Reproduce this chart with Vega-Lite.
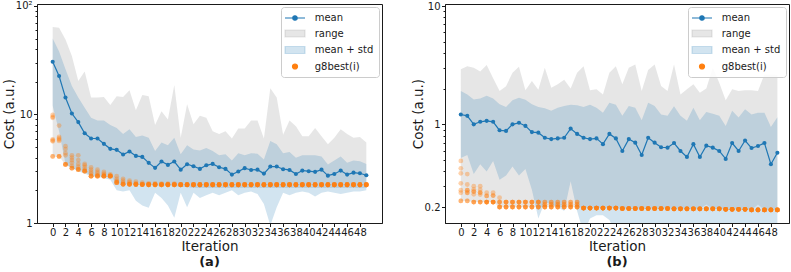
{
  "$schema": "https://vega.github.io/schema/vega-lite/v6.json",
  "background": "white",
  "padding": {"left": 1, "top": 0, "right": 0, "bottom": 0},
  "config": {
    "font": "DejaVu Sans",
    "view": {"stroke": "#1a1a1a", "strokeWidth": 1},
    "axis": {"grid": false, "domainColor": "#1a1a1a", "tickColor": "#1a1a1a", "labelColor": "#1a1a1a", "titleColor": "#1a1a1a", "labelFont": "DejaVu Sans", "titleFont": "DejaVu Sans", "labelFontSize": 10, "titleFontSize": 13.5, "titleFontWeight": "normal", "labelPadding": 1.5, "tickSize": 3.5, "titlePadding": 0},
    "legend": {"fillColor": "rgba(255,255,255,0.85)", "strokeColor": "#cccccc", "cornerRadius": 3, "padding": 5, "labelFont": "DejaVu Sans", "labelFontSize": 10, "labelColor": "#1a1a1a", "symbolSize": 100, "rowPadding": 4.5, "labelOffset": 16.7},
    "title": {"orient": "bottom", "font": "DejaVu Sans", "fontSize": 13, "fontWeight": "bold", "color": "#1a1a1a", "offset": 3, "anchor": "middle", "frame": "group"}
  },
  "datasets": {
    "statsA": [
      {"i":0,"mean":30.6,"hi":50,"lo":12,"rmax":64,"rmin":4.1},
      {"i":1,"mean":22.6,"hi":38,"lo":7.0,"rmax":63,"rmin":4.1},
      {"i":2,"mean":14.3,"hi":26,"lo":3.5,"rmax":49,"rmin":3.46},
      {"i":3,"mean":10.2,"hi":18.3,"lo":3.2,"rmax":34.5,"rmin":3.2},
      {"i":4,"mean":8.5,"hi":14.3,"lo":3.0,"rmax":20.3,"rmin":3.1},
      {"i":5,"mean":6.7,"hi":11.5,"lo":2.85,"rmax":24.8,"rmin":3.0},
      {"i":6,"mean":6.0,"hi":9.3,"lo":2.7,"rmax":14.3,"rmin":2.7},
      {"i":7,"mean":6.0,"hi":8.8,"lo":2.65,"rmax":14.3,"rmin":2.7},
      {"i":8,"mean":5.36,"hi":8.8,"lo":2.6,"rmax":14.5,"rmin":2.7},
      {"i":9,"mean":4.82,"hi":8.0,"lo":2.5,"rmax":12.2,"rmin":2.7},
      {"i":10,"mean":4.72,"hi":7.5,"lo":2.0,"rmax":14.7,"rmin":2.35},
      {"i":11,"mean":4.27,"hi":6.6,"lo":1.95,"rmax":14.5,"rmin":2.27},
      {"i":12,"mean":4.55,"hi":7.3,"lo":2.0,"rmax":16.7,"rmin":2.27},
      {"i":13,"mean":4.15,"hi":6.2,"lo":1.6,"rmax":10.9,"rmin":2.27},
      {"i":14,"mean":4.06,"hi":6.4,"lo":1.45,"rmax":15.1,"rmin":2.26},
      {"i":15,"mean":3.58,"hi":6.1,"lo":1.38,"rmax":14.7,"rmin":2.25},
      {"i":16,"mean":3.22,"hi":4.6,"lo":1.9,"rmax":8.0,"rmin":2.2},
      {"i":17,"mean":3.68,"hi":5.5,"lo":1.7,"rmax":10.7,"rmin":2.2},
      {"i":18,"mean":3.43,"hi":5.2,"lo":1.45,"rmax":9.0,"rmin":2.2},
      {"i":19,"mean":3.68,"hi":6.1,"lo":1.12,"rmax":18.7,"rmin":2.2},
      {"i":20,"mean":3.1,"hi":4.3,"lo":1.9,"rmax":6.1,"rmin":2.15},
      {"i":21,"mean":3.48,"hi":5.2,"lo":1.4,"rmax":12.4,"rmin":2.15},
      {"i":22,"mean":3.33,"hi":4.75,"lo":1.9,"rmax":8.1,"rmin":2.1},
      {"i":23,"mean":3.15,"hi":4.65,"lo":1.7,"rmax":9.7,"rmin":2.1},
      {"i":24,"mean":3.4,"hi":4.9,"lo":1.8,"rmax":9.3,"rmin":2.1},
      {"i":25,"mean":3.5,"hi":4.6,"lo":1.9,"rmax":7.0,"rmin":2.1},
      {"i":26,"mean":3.26,"hi":4.2,"lo":1.8,"rmax":6.6,"rmin":2.1},
      {"i":27,"mean":3.15,"hi":4.3,"lo":1.9,"rmax":7.0,"rmin":2.1},
      {"i":28,"mean":2.79,"hi":3.76,"lo":2.0,"rmax":6.0,"rmin":2.1},
      {"i":29,"mean":2.98,"hi":4.4,"lo":1.8,"rmax":7.4,"rmin":2.1},
      {"i":30,"mean":3.2,"hi":4.2,"lo":1.9,"rmax":7.4,"rmin":2.1},
      {"i":31,"mean":3.08,"hi":4.4,"lo":1.95,"rmax":8.8,"rmin":2.1},
      {"i":32,"mean":3.1,"hi":4.35,"lo":1.85,"rmax":8.8,"rmin":2.1},
      {"i":33,"mean":2.85,"hi":3.84,"lo":1.5,"rmax":6.0,"rmin":2.1},
      {"i":34,"mean":3.31,"hi":5.7,"lo":0.95,"rmax":17.4,"rmin":2.1},
      {"i":35,"mean":3.31,"hi":5.3,"lo":1.4,"rmax":14.3,"rmin":2.1},
      {"i":36,"mean":3.13,"hi":4.4,"lo":1.9,"rmax":6.5,"rmin":2.1},
      {"i":37,"mean":3.08,"hi":4.5,"lo":1.8,"rmax":8.8,"rmin":2.1},
      {"i":38,"mean":2.83,"hi":4.0,"lo":1.9,"rmax":7.8,"rmin":2.1},
      {"i":39,"mean":3.04,"hi":4.2,"lo":1.95,"rmax":6.3,"rmin":2.1},
      {"i":40,"mean":3.0,"hi":4.2,"lo":1.9,"rmax":6.3,"rmin":2.1},
      {"i":41,"mean":2.96,"hi":4.2,"lo":1.75,"rmax":7.5,"rmin":2.1},
      {"i":42,"mean":3.1,"hi":4.1,"lo":1.9,"rmax":6.3,"rmin":2.1},
      {"i":43,"mean":2.73,"hi":3.45,"lo":1.95,"rmax":5.3,"rmin":2.1},
      {"i":44,"mean":2.83,"hi":3.76,"lo":1.9,"rmax":6.1,"rmin":2.1},
      {"i":45,"mean":3.04,"hi":4.1,"lo":1.85,"rmax":7.3,"rmin":2.1},
      {"i":46,"mean":2.79,"hi":3.58,"lo":1.9,"rmax":6.6,"rmin":2.1},
      {"i":47,"mean":2.91,"hi":3.76,"lo":1.95,"rmax":6.1,"rmin":2.1},
      {"i":48,"mean":2.87,"hi":3.7,"lo":1.95,"rmax":6.2,"rmin":2.1},
      {"i":49,"mean":2.75,"hi":3.5,"lo":2.0,"rmax":5.5,"rmin":2.1}
    ],
    "bestA": [
      {"i":0,"g":[9.9,9.5,9.3,5.9,5.75,5.65,4.1,4.1]},
      {"i":1,"g":[7.9,6.2,6.0,5.85,5.7,4.1,4.1,4.1]},
      {"i":2,"g":[5.1,4.8,4.4,4.2,3.46,3.46,3.46,3.46]},
      {"i":3,"g":[4.2,4.0,3.8,3.6,3.35,3.2,3.2,3.2]},
      {"i":4,"g":[4.2,3.8,3.5,3.3,3.15,3.1,3.1,3.1]},
      {"i":5,"g":[3.5,3.4,3.25,3.1,3.0,3.0,3.0,3.0]},
      {"i":6,"g":[3.25,3.1,2.95,2.85,2.7,2.7,2.7,2.7]},
      {"i":7,"g":[3.1,2.95,2.85,2.75,2.7,2.7,2.7,2.7]},
      {"i":8,"g":[2.95,2.85,2.78,2.7,2.7,2.7,2.7,2.7]},
      {"i":9,"g":[2.8,2.75,2.7,2.7,2.7,2.7,2.7,2.7]},
      {"i":10,"g":[2.7,2.55,2.45,2.4,2.35,2.35,2.35,2.35]},
      {"i":11,"g":[2.55,2.45,2.35,2.3,2.27,2.27,2.27,2.27]},
      {"i":12,"g":[2.45,2.38,2.3,2.27,2.27,2.27,2.27,2.27]},
      {"i":13,"g":[2.4,2.32,2.28,2.27,2.26,2.26,2.26,2.26]},
      {"i":14,"g":[2.35,2.28,2.26,2.26,2.26,2.26,2.26,2.26]},
      {"i":15,"g":[2.32,2.27,2.25,2.25,2.25,2.25,2.25,2.25]},
      {"i":16,"g":[2.32,2.27,2.25,2.25,2.25,2.25,2.25,2.25]},
      {"i":17,"g":[2.3,2.26,2.25,2.25,2.25,2.25,2.25,2.25]},
      {"i":18,"g":[2.3,2.26,2.25,2.25,2.25,2.25,2.25,2.25]},
      {"i":19,"g":[2.3,2.26,2.25,2.25,2.25,2.25,2.25,2.25]},
      {"i":20,"g":[2.25,2.25,2.25,2.25,2.25,2.25,2.25,2.25]},
      {"i":21,"g":[2.25,2.25,2.25,2.25,2.25,2.25,2.25,2.25]},
      {"i":22,"g":[2.25,2.25,2.25,2.25,2.25,2.25,2.25,2.25]},
      {"i":23,"g":[2.25,2.25,2.25,2.25,2.25,2.25,2.25,2.25]},
      {"i":24,"g":[2.25,2.25,2.25,2.25,2.25,2.25,2.25,2.25]},
      {"i":25,"g":[2.25,2.25,2.25,2.25,2.25,2.25,2.25,2.25]},
      {"i":26,"g":[2.25,2.25,2.25,2.25,2.25,2.25,2.25,2.25]},
      {"i":27,"g":[2.25,2.25,2.25,2.25,2.25,2.25,2.25,2.25]},
      {"i":28,"g":[2.25,2.25,2.25,2.25,2.25,2.25,2.25,2.25]},
      {"i":29,"g":[2.25,2.25,2.25,2.25,2.25,2.25,2.25,2.25]},
      {"i":30,"g":[2.25,2.25,2.25,2.25,2.25,2.25,2.25,2.25]},
      {"i":31,"g":[2.25,2.25,2.25,2.25,2.25,2.25,2.25,2.25]},
      {"i":32,"g":[2.25,2.25,2.25,2.25,2.25,2.25,2.25,2.25]},
      {"i":33,"g":[2.25,2.25,2.25,2.25,2.25,2.25,2.25,2.25]},
      {"i":34,"g":[2.25,2.25,2.25,2.25,2.25,2.25,2.25,2.25]},
      {"i":35,"g":[2.25,2.25,2.25,2.25,2.25,2.25,2.25,2.25]},
      {"i":36,"g":[2.25,2.25,2.25,2.25,2.25,2.25,2.25,2.25]},
      {"i":37,"g":[2.25,2.25,2.25,2.25,2.25,2.25,2.25,2.25]},
      {"i":38,"g":[2.25,2.25,2.25,2.25,2.25,2.25,2.25,2.25]},
      {"i":39,"g":[2.25,2.25,2.25,2.25,2.25,2.25,2.25,2.25]},
      {"i":40,"g":[2.25,2.25,2.25,2.25,2.25,2.25,2.25,2.25]},
      {"i":41,"g":[2.25,2.25,2.25,2.25,2.25,2.25,2.25,2.25]},
      {"i":42,"g":[2.25,2.25,2.25,2.25,2.25,2.25,2.25,2.25]},
      {"i":43,"g":[2.25,2.25,2.25,2.25,2.25,2.25,2.25,2.25]},
      {"i":44,"g":[2.25,2.25,2.25,2.25,2.25,2.25,2.25,2.25]},
      {"i":45,"g":[2.25,2.25,2.25,2.25,2.25,2.25,2.25,2.25]},
      {"i":46,"g":[2.25,2.25,2.25,2.25,2.25,2.25,2.25,2.25]},
      {"i":47,"g":[2.25,2.25,2.25,2.25,2.25,2.25,2.25,2.25]},
      {"i":48,"g":[2.25,2.25,2.25,2.25,2.25,2.25,2.25,2.25]},
      {"i":49,"g":[2.25,2.25,2.25,2.25,2.25,2.25,2.25,2.25]}
    ],
    "statsB": [
      {"i":0,"mean":1.21,"hi":1.91,"lo":0.52,"rmax":2.92,"rmin":0.225},
      {"i":1,"mean":1.18,"hi":1.79,"lo":0.55,"rmax":3.1,"rmin":0.225},
      {"i":2,"mean":1.0,"hi":1.62,"lo":0.38,"rmax":3.0,"rmin":0.22},
      {"i":3,"mean":1.05,"hi":1.65,"lo":0.46,"rmax":2.79,"rmin":0.22},
      {"i":4,"mean":1.07,"hi":1.74,"lo":0.4,"rmax":3.17,"rmin":0.22},
      {"i":5,"mean":1.05,"hi":1.65,"lo":0.49,"rmax":2.45,"rmin":0.22},
      {"i":6,"mean":0.89,"hi":1.48,"lo":0.34,"rmax":1.91,"rmin":0.2},
      {"i":7,"mean":0.88,"hi":1.4,"lo":0.37,"rmax":2.1,"rmin":0.2},
      {"i":8,"mean":1.0,"hi":1.6,"lo":0.44,"rmax":2.73,"rmin":0.2},
      {"i":9,"mean":1.03,"hi":1.68,"lo":0.37,"rmax":3.07,"rmin":0.2},
      {"i":10,"mean":0.97,"hi":1.61,"lo":0.42,"rmax":1.94,"rmin":0.2},
      {"i":11,"mean":0.86,"hi":1.48,"lo":0.28,"rmax":2.32,"rmin":0.2},
      {"i":12,"mean":0.85,"hi":1.4,"lo":0.16,"rmax":1.96,"rmin":0.2},
      {"i":13,"mean":0.77,"hi":1.37,"lo":0.22,"rmax":3.0,"rmin":0.2},
      {"i":14,"mean":0.75,"hi":1.3,"lo":0.21,"rmax":2.04,"rmin":0.2},
      {"i":15,"mean":0.76,"hi":1.38,"lo":0.2,"rmax":2.18,"rmin":0.2},
      {"i":16,"mean":0.77,"hi":1.43,"lo":0.185,"rmax":2.38,"rmin":0.2},
      {"i":17,"mean":0.92,"hi":1.46,"lo":0.33,"rmax":2.01,"rmin":0.2},
      {"i":18,"mean":0.83,"hi":1.45,"lo":0.185,"rmax":2.73,"rmin":0.2},
      {"i":19,"mean":0.77,"hi":1.4,"lo":0.12,"rmax":3.09,"rmin":0.196},
      {"i":20,"mean":0.75,"hi":1.46,"lo":0.16,"rmax":1.94,"rmin":0.196},
      {"i":21,"mean":0.76,"hi":1.38,"lo":0.17,"rmax":1.98,"rmin":0.196},
      {"i":22,"mean":0.68,"hi":1.25,"lo":0.17,"rmax":1.79,"rmin":0.196},
      {"i":23,"mean":0.83,"hi":1.52,"lo":0.155,"rmax":2.73,"rmin":0.196},
      {"i":24,"mean":0.76,"hi":1.46,"lo":0.12,"rmax":3.1,"rmin":0.196},
      {"i":25,"mean":0.595,"hi":1.18,"lo":0.1,"rmax":2.18,"rmin":0.194},
      {"i":26,"mean":0.75,"hi":1.43,"lo":0.1,"rmax":3.0,"rmin":0.194},
      {"i":27,"mean":0.7,"hi":1.38,"lo":0.1,"rmax":3.21,"rmin":0.194},
      {"i":28,"mean":0.55,"hi":1.08,"lo":0.1,"rmax":1.91,"rmin":0.194},
      {"i":29,"mean":0.77,"hi":1.52,"lo":0.1,"rmax":2.88,"rmin":0.194},
      {"i":30,"mean":0.7,"hi":1.43,"lo":0.1,"rmax":3.21,"rmin":0.194},
      {"i":31,"mean":0.64,"hi":1.21,"lo":0.1,"rmax":2.11,"rmin":0.194},
      {"i":32,"mean":0.635,"hi":1.18,"lo":0.1,"rmax":1.91,"rmin":0.194},
      {"i":33,"mean":0.695,"hi":1.42,"lo":0.1,"rmax":3.21,"rmin":0.193},
      {"i":34,"mean":0.595,"hi":1.18,"lo":0.1,"rmax":1.79,"rmin":0.193},
      {"i":35,"mean":0.53,"hi":1.07,"lo":0.1,"rmax":1.98,"rmin":0.193},
      {"i":36,"mean":0.68,"hi":1.38,"lo":0.1,"rmax":2.18,"rmin":0.193},
      {"i":37,"mean":0.53,"hi":1.08,"lo":0.1,"rmax":1.85,"rmin":0.193},
      {"i":38,"mean":0.66,"hi":1.27,"lo":0.1,"rmax":2.01,"rmin":0.21},
      {"i":39,"mean":0.635,"hi":1.23,"lo":0.1,"rmax":3.0,"rmin":0.193},
      {"i":40,"mean":0.595,"hi":1.18,"lo":0.1,"rmax":2.25,"rmin":0.193},
      {"i":41,"mean":0.51,"hi":0.97,"lo":0.1,"rmax":1.6,"rmin":0.191},
      {"i":42,"mean":0.695,"hi":1.3,"lo":0.1,"rmax":1.98,"rmin":0.191},
      {"i":43,"mean":0.595,"hi":1.14,"lo":0.1,"rmax":1.91,"rmin":0.191},
      {"i":44,"mean":0.73,"hi":1.34,"lo":0.1,"rmax":1.94,"rmin":0.191},
      {"i":45,"mean":0.63,"hi":1.21,"lo":0.1,"rmax":1.94,"rmin":0.189},
      {"i":46,"mean":0.655,"hi":1.25,"lo":0.1,"rmax":1.91,"rmin":0.21},
      {"i":47,"mean":0.695,"hi":1.25,"lo":0.1,"rmax":2.64,"rmin":0.189},
      {"i":48,"mean":0.46,"hi":0.95,"lo":0.1,"rmax":2.64,"rmin":0.189},
      {"i":49,"mean":0.575,"hi":1.15,"lo":0.1,"rmax":2.61,"rmin":0.189}
    ],
    "bestB": [
      {"i":0,"g":[0.49,0.425,0.385,0.317,0.277,0.264,0.225,0.225]},
      {"i":1,"g":[0.38,0.31,0.277,0.277,0.264,0.264,0.225,0.225]},
      {"i":2,"g":[0.3,0.282,0.27,0.27,0.256,0.22,0.22,0.22]},
      {"i":3,"g":[0.3,0.28,0.265,0.265,0.255,0.22,0.22,0.22]},
      {"i":4,"g":[0.264,0.248,0.248,0.22,0.22,0.22,0.22,0.22]},
      {"i":5,"g":[0.264,0.25,0.25,0.22,0.22,0.22,0.22,0.22]},
      {"i":6,"g":[0.24,0.22,0.22,0.22,0.2,0.2,0.2,0.2]},
      {"i":7,"g":[0.22,0.22,0.22,0.22,0.2,0.2,0.2,0.2]},
      {"i":8,"g":[0.22,0.22,0.22,0.22,0.2,0.2,0.2,0.2]},
      {"i":9,"g":[0.22,0.22,0.22,0.22,0.2,0.2,0.2,0.2]},
      {"i":10,"g":[0.22,0.22,0.22,0.22,0.2,0.2,0.2,0.2]},
      {"i":11,"g":[0.22,0.22,0.22,0.22,0.2,0.2,0.2,0.2]},
      {"i":12,"g":[0.22,0.22,0.22,0.22,0.2,0.2,0.2,0.2]},
      {"i":13,"g":[0.22,0.22,0.21,0.21,0.2,0.2,0.2,0.2]},
      {"i":14,"g":[0.22,0.22,0.21,0.21,0.2,0.2,0.2,0.2]},
      {"i":15,"g":[0.22,0.22,0.21,0.21,0.2,0.2,0.2,0.2]},
      {"i":16,"g":[0.22,0.22,0.21,0.21,0.2,0.2,0.2,0.2]},
      {"i":17,"g":[0.22,0.22,0.21,0.21,0.2,0.2,0.2,0.2]},
      {"i":18,"g":[0.22,0.22,0.21,0.21,0.2,0.2,0.2,0.2]},
      {"i":19,"g":[0.196,0.196,0.196,0.196,0.196,0.196,0.196,0.196]},
      {"i":20,"g":[0.196,0.196,0.196,0.196,0.196,0.196,0.196,0.196]},
      {"i":21,"g":[0.196,0.196,0.196,0.196,0.196,0.196,0.196,0.196]},
      {"i":22,"g":[0.196,0.196,0.196,0.196,0.196,0.196,0.196,0.196]},
      {"i":23,"g":[0.196,0.196,0.196,0.196,0.196,0.196,0.196,0.196]},
      {"i":24,"g":[0.196,0.196,0.196,0.196,0.196,0.196,0.196,0.196]},
      {"i":25,"g":[0.194,0.194,0.194,0.194,0.194,0.194,0.194,0.194]},
      {"i":26,"g":[0.194,0.194,0.194,0.194,0.194,0.194,0.194,0.194]},
      {"i":27,"g":[0.194,0.194,0.194,0.194,0.194,0.194,0.194,0.194]},
      {"i":28,"g":[0.194,0.194,0.194,0.194,0.194,0.194,0.194,0.194]},
      {"i":29,"g":[0.194,0.194,0.194,0.194,0.194,0.194,0.194,0.194]},
      {"i":30,"g":[0.194,0.194,0.194,0.194,0.194,0.194,0.194,0.194]},
      {"i":31,"g":[0.194,0.194,0.194,0.194,0.194,0.194,0.194,0.194]},
      {"i":32,"g":[0.194,0.194,0.194,0.194,0.194,0.194,0.194,0.194]},
      {"i":33,"g":[0.193,0.193,0.193,0.193,0.193,0.193,0.193,0.193]},
      {"i":34,"g":[0.193,0.193,0.193,0.193,0.193,0.193,0.193,0.193]},
      {"i":35,"g":[0.193,0.193,0.193,0.193,0.193,0.193,0.193,0.193]},
      {"i":36,"g":[0.193,0.193,0.193,0.193,0.193,0.193,0.193,0.193]},
      {"i":37,"g":[0.193,0.193,0.193,0.193,0.193,0.193,0.193,0.193]},
      {"i":38,"g":[0.193,0.193,0.193,0.193,0.193,0.193,0.193,0.193]},
      {"i":39,"g":[0.193,0.193,0.193,0.193,0.193,0.193,0.193,0.193]},
      {"i":40,"g":[0.193,0.193,0.193,0.193,0.193,0.193,0.193,0.193]},
      {"i":41,"g":[0.191,0.191,0.191,0.191,0.191,0.191,0.191,0.191]},
      {"i":42,"g":[0.191,0.191,0.191,0.191,0.191,0.191,0.191,0.191]},
      {"i":43,"g":[0.191,0.191,0.191,0.191,0.191,0.191,0.191,0.191]},
      {"i":44,"g":[0.191,0.191,0.191,0.191,0.191,0.191,0.191,0.191]},
      {"i":45,"g":[0.189,0.189,0.189,0.189,0.189,0.189,0.189,0.189]},
      {"i":46,"g":[0.189,0.189,0.189,0.189,0.189,0.189,0.189,0.189]},
      {"i":47,"g":[0.189,0.189,0.189,0.189,0.189,0.189,0.189,0.189]},
      {"i":48,"g":[0.189,0.189,0.189,0.189,0.189,0.189,0.189,0.189]},
      {"i":49,"g":[0.189,0.189,0.189,0.189,0.189,0.189,0.189,0.189]}
    ]
  },
  "resolve": {"scale": {"color": "independent"}, "legend": {"color": "independent"}},
  "spacing": 27,
  "hconcat": [
    {
      "width": 345,
      "height": 219,
      "title": {"text": "(a)"},
      "encoding": {
        "x": {"field": "i", "type": "quantitative", "title": "Iteration",
          "scale": {"domain": [-2.45, 51.45], "nice": false, "zero": false},
          "axis": {"values": [0,2,4,6,8,10,12,14,16,18,20,22,24,26,28,30,32,34,36,38,40,42,44,46,48], "labelOverlap": false, "labelFlush": false, "labelBound": false, "format": "d", "labelPadding": 1, "titlePadding": 2}}
      },
      "layer": [
        {
          "data": {"name": "statsA"},
          "mark": {"type": "area", "clip": true},
          "encoding": {
            "y": {"field": "rmax", "type": "quantitative", "title": "Cost (a.u.)",
              "scale": {"type": "log", "domain": [1, 104], "nice": false},
              "axis": {"values": [1,2,3,4,5,6,7,8,9,10,20,30,40,50,60,70,80,90,100], "labelOverlap": false,
                "titleX": -21, "titleBaseline": "bottom",
                "labelExpr": "datum.value==1?'1':datum.value==10?'10':datum.value==100?'10²':''",
                "tickSize": {"condition": {"test": "datum.value==1||datum.value==10||datum.value==100", "value": 3.5}, "value": 2}}},
            "y2": {"field": "rmin"},
            "color": {"datum": "range", "type": "nominal",
              "scale": {"domain": ["mean", "range", "mean + std", "g8best(i)"], "range": ["#1f77b4", "rgba(128,128,128,0.2)", "rgba(31,119,180,0.2)", "#ff7f0e"]},
              "legend": {"title": null, "orient": "top-right", "offset": 3,
                "encode": {"symbols": {"update": {
                  "shape": {"signal": "datum.value==='mean'?'M-1.4,0H2.6M0.16,0A0.44,0.44,0,1,1,1.04,0A0.44,0.44,0,1,1,0.16,0Z':(datum.value==='g8best(i)'?'M0.1,0A0.5,0.5,0,1,1,1.1,0A0.5,0.5,0,1,1,0.1,0Z':'M-1.4,-0.7H2.6V0.7H-1.4Z')"},
                  "fill": {"signal": "datum.value==='mean'?'#1f77b4':datum.value==='range'?'#e6e6e6':datum.value==='mean + std'?'#d2e4f0':'#ff7f0e'"},
                  "stroke": {"signal": "datum.value==='mean'?'#1f77b4':'transparent'"},
                  "strokeWidth": {"value": 1.2},
                  "opacity": {"value": 1}, "fillOpacity": {"value": 1}, "strokeOpacity": {"value": 1}}}}}}
          }
        },
        {
          "data": {"name": "statsA"},
          "mark": {"type": "area", "clip": true},
          "encoding": {
            "y": {"field": "hi", "type": "quantitative", "title": "Cost (a.u.)"},
            "y2": {"field": "lo"},
            "color": {"datum": "mean + std", "type": "nominal"}
          }
        },
        {
          "data": {"name": "statsA"},
          "mark": {"type": "line", "strokeWidth": 1.2, "clip": true, "point": {"filled": true, "size": 17}},
          "encoding": {
            "y": {"field": "mean", "type": "quantitative", "title": "Cost (a.u.)"},
            "color": {"datum": "mean", "type": "nominal"}
          }
        },
        {
          "data": {"name": "bestA"},
          "transform": [{"flatten": ["g"]}],
          "mark": {"type": "circle", "size": 23, "opacity": 0.35, "clip": true},
          "encoding": {
            "y": {"field": "g", "type": "quantitative", "title": "Cost (a.u.)"},
            "color": {"datum": "g8best(i)", "type": "nominal"}
          }
        }
      ]
    },
    {
      "width": 344,
      "height": 219,
      "title": {"text": "(b)"},
      "encoding": {
        "x": {"field": "i", "type": "quantitative", "title": "Iteration",
          "scale": {"domain": [-2.45, 50.8], "nice": false, "zero": false},
          "axis": {"values": [0,2,4,6,8,10,12,14,16,18,20,22,24,26,28,30,32,34,36,38,40,42,44,46,48], "labelOverlap": false, "labelFlush": false, "labelBound": false, "format": "d", "labelPadding": 1, "titlePadding": 2}}
      },
      "layer": [
        {
          "data": {"name": "statsB"},
          "mark": {"type": "area", "clip": true},
          "encoding": {
            "y": {"field": "rmax", "type": "quantitative", "title": "Cost (a.u.)",
              "scale": {"type": "log", "domain": [0.1465, 10.4], "nice": false},
              "axis": {"values": [0.2,0.3,0.4,0.5,0.6,0.7,0.8,0.9,1,2,3,4,5,6,7,8,9,10], "labelOverlap": false,
                "titleX": -20, "titleBaseline": "bottom",
                "labelExpr": "datum.value==1?'1':datum.value==10?'10':datum.value==0.2?'0.2':''",
                "tickSize": {"condition": {"test": "datum.value==1||datum.value==10||datum.value==0.2", "value": 3.5}, "value": 2}}},
            "y2": {"field": "rmin"},
            "color": {"datum": "range", "type": "nominal",
              "scale": {"domain": ["mean", "range", "mean + std", "g8best(i)"], "range": ["#1f77b4", "rgba(128,128,128,0.2)", "rgba(31,119,180,0.2)", "#ff7f0e"]},
              "legend": {"title": null, "orient": "top-right", "offset": 3,
                "encode": {"symbols": {"update": {
                  "shape": {"signal": "datum.value==='mean'?'M-1.4,0H2.6M0.16,0A0.44,0.44,0,1,1,1.04,0A0.44,0.44,0,1,1,0.16,0Z':(datum.value==='g8best(i)'?'M0.1,0A0.5,0.5,0,1,1,1.1,0A0.5,0.5,0,1,1,0.1,0Z':'M-1.4,-0.7H2.6V0.7H-1.4Z')"},
                  "fill": {"signal": "datum.value==='mean'?'#1f77b4':datum.value==='range'?'#e6e6e6':datum.value==='mean + std'?'#d2e4f0':'#ff7f0e'"},
                  "stroke": {"signal": "datum.value==='mean'?'#1f77b4':'transparent'"},
                  "strokeWidth": {"value": 1.2},
                  "opacity": {"value": 1}, "fillOpacity": {"value": 1}, "strokeOpacity": {"value": 1}}}}}}
          }
        },
        {
          "data": {"name": "statsB"},
          "mark": {"type": "area", "clip": true},
          "encoding": {
            "y": {"field": "hi", "type": "quantitative", "title": "Cost (a.u.)"},
            "y2": {"field": "lo"},
            "color": {"datum": "mean + std", "type": "nominal"}
          }
        },
        {
          "data": {"name": "statsB"},
          "mark": {"type": "line", "strokeWidth": 1.2, "clip": true, "point": {"filled": true, "size": 17}},
          "encoding": {
            "y": {"field": "mean", "type": "quantitative", "title": "Cost (a.u.)"},
            "color": {"datum": "mean", "type": "nominal"}
          }
        },
        {
          "data": {"name": "bestB"},
          "transform": [{"flatten": ["g"]}],
          "mark": {"type": "circle", "size": 23, "opacity": 0.35, "clip": true},
          "encoding": {
            "y": {"field": "g", "type": "quantitative", "title": "Cost (a.u.)"},
            "color": {"datum": "g8best(i)", "type": "nominal"}
          }
        }
      ]
    }
  ]
}
